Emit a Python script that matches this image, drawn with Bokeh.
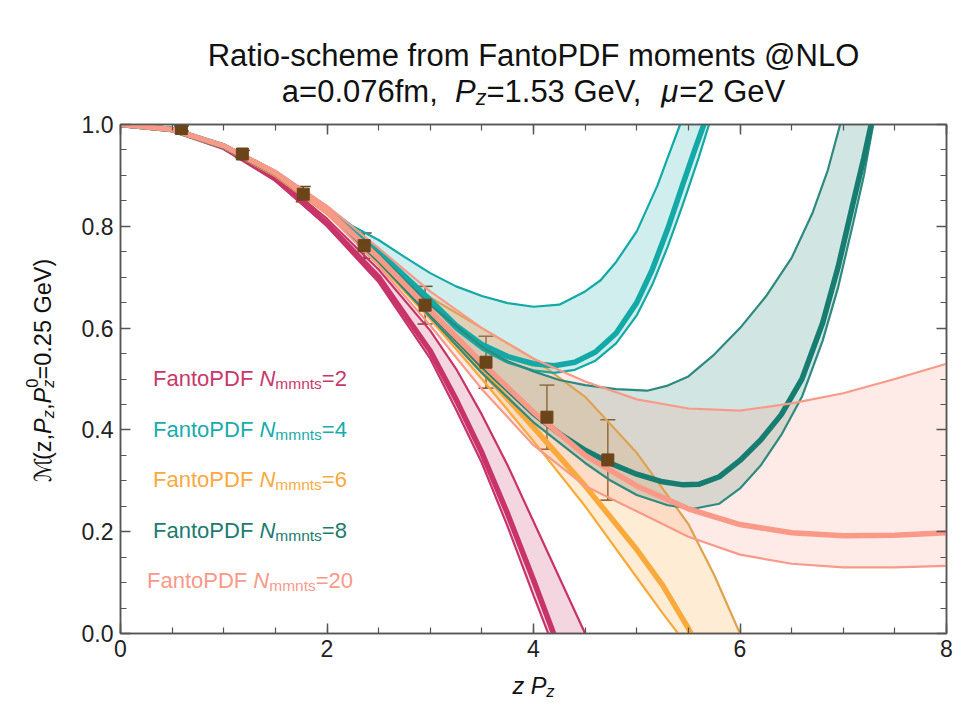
import math
from bokeh.plotting import figure
from bokeh.layouts import row, column
from bokeh.models import (Range1d, Label, LinearAxis, SingleIntervalTicker,
                          ColumnDataSource, Whisker, TeeHead, PrintfTickFormatter)
from bokeh.embed import file_html
from bokeh.resources import INLINE

# ---------------- data ----------------
# lattice data points
z_pts = [0.59, 1.18, 1.77, 2.36, 2.95, 3.54, 4.13, 4.72]
m_pts = [0.992, 0.942, 0.863, 0.762, 0.645, 0.533, 0.425, 0.341]
e_pts = [0.005, 0.007, 0.015, 0.025, 0.037, 0.051, 0.063, 0.079]

# N_mmnts = 2
z2_c = [0, 0.5, 1.0, 1.5, 2.0, 2.5, 3.0, 3.25, 3.5, 3.75, 4.0, 4.25]
m2_c = [1.0, 0.99, 0.955, 0.893, 0.805, 0.70, 0.555, 0.46, 0.355, 0.235, 0.105, -0.03]
z2_lo = [0, 0.5, 1.0, 1.5, 2.0, 2.5, 3.0, 3.25, 3.5, 3.75, 4.0, 4.2]
m2_lo = [1.0, 0.99, 0.954, 0.89, 0.80, 0.69, 0.54, 0.44, 0.335, 0.21, 0.075, -0.03]
z2_hi = [0, 0.5, 1.0, 1.5, 2.0, 2.5, 3.0, 3.25, 3.5, 3.75, 4.0, 4.25, 4.5, 4.6]
m2_hi = [1.0, 0.991, 0.957, 0.898, 0.815, 0.715, 0.595, 0.52, 0.43, 0.33, 0.22, 0.11, 0.0, -0.045]

# N_mmnts = 4
z4_hi = [0, 0.5, 1.0, 1.5, 2.0, 2.25, 2.5, 2.75, 3.0, 3.25, 3.5, 3.75, 4.0, 4.25, 4.5,
         4.65, 4.8, 5.0, 5.2, 5.3, 5.42, 5.5]
m4_hi = [1.0, 0.991, 0.96, 0.908, 0.838, 0.80, 0.773, 0.74, 0.708, 0.682, 0.663, 0.649,
         0.642, 0.646, 0.672, 0.694, 0.73, 0.79, 0.88, 0.935, 1.0, 1.05]
z4_c = [0, 0.5, 1.0, 1.5, 2.0, 2.5, 3.0, 3.25, 3.5, 3.75, 4.0, 4.2, 4.4, 4.6, 4.8, 5.0,
        5.15, 5.3, 5.45, 5.57, 5.65, 5.72]
m4_c = [1.0, 0.99, 0.958, 0.905, 0.835, 0.75, 0.655, 0.605, 0.568, 0.544, 0.53, 0.526,
        0.533, 0.553, 0.59, 0.65, 0.715, 0.795, 0.885, 0.955, 1.0, 1.04]
z4_lo = [0, 0.5, 1.0, 1.5, 2.0, 2.5, 3.0, 3.25, 3.5, 3.75, 4.0, 4.2, 4.4, 4.6, 4.8, 5.0,
         5.15, 5.3, 5.45, 5.6, 5.7, 5.77]
m4_lo = [1.0, 0.99, 0.957, 0.903, 0.832, 0.745, 0.648, 0.597, 0.558, 0.532, 0.517, 0.512,
         0.518, 0.536, 0.57, 0.625, 0.685, 0.76, 0.845, 0.935, 1.0, 1.04]

# N_mmnts = 6
z6_c = [0, 0.5, 1.0, 1.5, 2.0, 2.5, 3.0, 3.5, 4.0, 4.5, 5.0, 5.25, 5.5, 5.6]
m6_c = [1.0, 0.99, 0.957, 0.902, 0.828, 0.733, 0.627, 0.517, 0.405, 0.29, 0.165, 0.095, 0.01, -0.03]
z6_lo = [0, 0.5, 1.0, 1.5, 2.0, 2.5, 3.0, 3.5, 4.0, 4.5, 5.0, 5.25, 5.4, 5.5]
m6_lo = [1.0, 0.99, 0.956, 0.9, 0.824, 0.727, 0.618, 0.50, 0.378, 0.25, 0.11, 0.04, 0.0, -0.03]
z6_hi = [0, 0.5, 1.0, 1.5, 2.0, 2.5, 3.0, 3.5, 4.0, 4.5, 5.0, 5.5, 5.75, 6.0, 6.1]
m6_hi = [1.0, 0.991, 0.958, 0.906, 0.833, 0.745, 0.66, 0.60, 0.54, 0.465, 0.355, 0.215, 0.115, 0.0, -0.05]

# N_mmnts = 8
z8_hi = [0, 0.5, 1.0, 1.5, 2.0, 2.5, 3.0, 3.5, 3.75, 4.0, 4.25, 4.5, 4.8, 5.1, 5.3, 5.5,
         5.75, 6.0, 6.25, 6.5, 6.7, 6.85, 6.97, 7.05]
m8_hi = [1.0, 0.991, 0.958, 0.906, 0.833, 0.745, 0.645, 0.563, 0.535, 0.515, 0.498, 0.488,
         0.48, 0.477, 0.487, 0.505, 0.548, 0.60, 0.662, 0.738, 0.825, 0.91, 1.0, 1.06]
z8_c = [0, 0.5, 1.0, 1.5, 2.0, 2.5, 3.0, 3.5, 4.0, 4.25, 4.5, 4.75, 5.0, 5.25, 5.45, 5.6,
        5.8, 6.0, 6.2, 6.4, 6.6, 6.8, 6.95, 7.1, 7.2, 7.27, 7.33]
m8_c = [1.0, 0.99, 0.957, 0.904, 0.83, 0.736, 0.632, 0.527, 0.432, 0.393, 0.36, 0.334,
        0.313, 0.298, 0.292, 0.293, 0.308, 0.34, 0.38, 0.43, 0.50, 0.61, 0.72, 0.85,
        0.935, 1.0, 1.06]
z8_lo = [0, 0.5, 1.0, 1.5, 2.0, 2.5, 3.0, 3.5, 4.0, 4.5, 4.75, 5.0, 5.3, 5.55, 5.8, 6.0,
         6.2, 6.4, 6.6, 6.8, 6.95, 7.1, 7.2, 7.29, 7.35]
m8_lo = [1.0, 0.99, 0.956, 0.902, 0.826, 0.73, 0.622, 0.512, 0.415, 0.335, 0.30, 0.272,
         0.252, 0.245, 0.255, 0.285, 0.33, 0.39, 0.465, 0.575, 0.68, 0.81, 0.90, 1.0, 1.06]

# N_mmnts = 20
z20 = [0, 0.5, 1.0, 1.5, 2.0, 2.5, 3.0, 3.5, 4.0, 4.5, 5.0, 5.5, 6.0, 6.5, 7.0, 7.5, 8.0]
m20_c = [1.0, 0.99, 0.958, 0.905, 0.832, 0.738, 0.634, 0.532, 0.435, 0.35, 0.29, 0.245, 0.214, 0.198, 0.192, 0.193, 0.198]
m20_hi = [1.0, 0.991, 0.96, 0.909, 0.84, 0.757, 0.672, 0.60, 0.54, 0.495, 0.46, 0.442, 0.438, 0.452, 0.472, 0.50, 0.53]
m20_lo = [1.0, 0.99, 0.956, 0.901, 0.825, 0.722, 0.605, 0.48, 0.37, 0.29, 0.24, 0.19, 0.155, 0.137, 0.13, 0.13, 0.133]

legend_n = ["2", "4", "6", "8", "20"]
x_tick_labels = {0: "0", 2: "2", 4: "4", 6: "6", 8: "8"}

# ---------------- style ----------------
C2, C4, C6, C8, C20 = "#c8336a", "#12a9a6", "#f9aa3a", "#187d71", "#f99a88"
TXT = {"2": "#c8386b", "4": "#1aabab", "6": "#f8aa40", "8": "#1c7b70", "20": "#f8998a"}
FONT = "Liberation Sans"
GREY = "#555555"
INK = "#111111"
NB = "\u00a0"

W_EM = {' ': 278, NB: 278, '(': 333, ')': 333, ',': 278, '-': 333, '.': 278, '=': 584,
        '@': 1015, 'A': 667, 'D': 722, 'F': 611, 'G': 778, 'L': 556, 'M': 833, 'N': 722,
        'O': 778, 'P': 667, 'R': 722, 'V': 667, 'a': 556, 'c': 500, 'e': 556, 'f': 278,
        'h': 556, 'i': 222, 'm': 833, 'n': 556, 'o': 556, 'r': 333, 's': 500, 't': 278,
        'z': 500, 'μ': 576, 'ℳ': 950}
for d in "0123456789":
    W_EM[d] = 556


def tw(s, size):
    return sum(W_EM.get(ch, 556) for ch in s) * size / 1000.0


def no_align(f):
    try:
        f.frame_align = False
    except Exception:
        pass
    f.title.visible = False


# page geometry (pixels); text y values below are visual centre lines
TOT_W, TOT_H = 954, 702
YL_W = 70                  # left strip with the rotated y label
TI_H = 110                 # title strip
XL_Y0 = 668                # x-label strip starts here
FL, FT, FW, FH = 120, 124, 826, 509   # plot frame in page pixels
FCX = FL + FW / 2.0                    # frame centre


def aux_fig(w, h):
    f = figure(width=w, height=h, output_backend="svg", toolbar_location=None,
               x_range=Range1d(0, w), y_range=Range1d(0, h), min_border=0,
               min_border_left=0, min_border_right=0, min_border_top=0, min_border_bottom=0,
               x_axis_location=None, y_axis_location=None,
               background_fill_color="white", border_fill_color="white")
    f.outline_line_color = None
    f.grid.visible = False
    no_align(f)
    return f


class Strip:
    def __init__(self, x0, y0, w, h):
        self.x0, self.y0, self.w, self.h = x0, y0, w, h
        self.fig = aux_fig(w, h)

    def put(self, text, X, Y, size, color, italic=False, font=FONT, angle=0.0, align="left"):
        self.fig.add_layout(Label(x=X - self.x0, y=self.y0 + self.h - Y,
                                  text=text, text_font=font, text_font_size=f"{size}px",
                                  text_font_style="italic" if italic else "normal",
                                  text_color=color, text_align=align,
                                  text_baseline="alphabetic", angle=angle))


class MainPut:
    def __init__(self, fig):
        self.fig = fig

    def put(self, text, X, Y, size, color, italic=False, font=FONT, angle=0.0, align="left"):
        self.fig.add_layout(Label(x=X - FL, y=FT + FH - Y, x_units="screen", y_units="screen",
                                  text=text, text_font=font, text_font_size=f"{size}px",
                                  text_font_style="italic" if italic else "normal",
                                  text_color=color, text_align=align,
                                  text_baseline="alphabetic", angle=angle))


def hrich(target, runs, cx, base_y, color):
    total = sum(tw(t, s) for t, s, it, off in runs)
    X = cx - total / 2.0
    for t, s, it, off in runs:
        target.put(t, X, base_y + off, s, color, italic=it)
        X += tw(t, s)


# ---------------- main plot ----------------
MAIN_W, MAIN_H = TOT_W - YL_W, XL_Y0 - TI_H
p = figure(width=MAIN_W, height=MAIN_H, output_backend="svg", toolbar_location=None,
           x_range=Range1d(0, 8), y_range=Range1d(0, 1.0),
           min_border_left=FL - YL_W, min_border_right=TOT_W - FL - FW,
           min_border_top=FT - TI_H, min_border_bottom=XL_Y0 - FT - FH,
           background_fill_color="white", border_fill_color="white")
no_align(p)
p.grid.visible = False
p.outline_line_color = GREY
p.outline_line_width = 1.5

p.xaxis.ticker = SingleIntervalTicker(interval=2, num_minor_ticks=4)
p.yaxis.ticker = SingleIntervalTicker(interval=0.2, num_minor_ticks=4)
p.xaxis.major_label_overrides = x_tick_labels
p.yaxis.formatter = PrintfTickFormatter(format="%.1f")


def style_axis(ax, labels=True):
    ax.axis_line_color = GREY
    ax.axis_line_width = 1.5
    ax.major_tick_line_color = GREY
    ax.minor_tick_line_color = GREY
    ax.major_tick_line_width = 1.5
    ax.minor_tick_line_width = 1.2
    ax.major_tick_in = 10
    ax.major_tick_out = 0
    ax.minor_tick_in = 6
    ax.minor_tick_out = 0
    if labels:
        ax.major_label_text_font = FONT
        ax.major_label_text_color = "#222222"
    else:
        ax.major_label_text_font_size = "1px"
        ax.major_label_text_color = None
        ax.major_label_standoff = 0


for ax in p.xaxis:
    style_axis(ax)
    ax.major_label_text_font_size = "23px"
    ax.major_label_standoff = 6
for ax in p.yaxis:
    style_axis(ax)
    ax.major_label_text_font_size = "23px"
    ax.major_label_standoff = 7

top_ax = LinearAxis(ticker=SingleIntervalTicker(interval=2, num_minor_ticks=4))
right_ax = LinearAxis(ticker=SingleIntervalTicker(interval=0.2, num_minor_ticks=4))
style_axis(top_ax, labels=False)
style_axis(right_ax, labels=False)
p.add_layout(top_ax, "above")
p.add_layout(right_ax, "right")

# bands
bands = [
    (z2_hi, m2_hi, z2_lo, m2_lo, C2, 0.2),
    (z4_hi, m4_hi, z4_lo, m4_lo, C4, 0.2),
    (z6_hi, m6_hi, z6_lo, m6_lo, C6, 0.22),
    (z8_hi, m8_hi, z8_lo, m8_lo, C8, 0.2),
    (z20, m20_hi, z20, m20_lo, C20, 0.2),
]
for zh, mh, zl, ml, col, a in bands:
    xs = list(zh) + list(reversed(zl))
    ys = list(mh) + list(reversed(ml))
    p.patch(xs, ys, fill_color=col, fill_alpha=a, line_color=None)

# lines
THIN, THICK = 2.2, 5.5
p.line(z2_lo, m2_lo, line_color=C2, line_width=THIN)
p.line(z2_hi, m2_hi, line_color=C2, line_width=THIN)
p.line(z2_c, m2_c, line_color=C2, line_width=THICK)

p.line(z6_lo, m6_lo, line_color=C6, line_width=THIN)
p.line(z6_hi, m6_hi, line_color="#dfa350", line_width=THIN)
p.line(z6_c, m6_c, line_color=C6, line_width=THICK)

p.line(z4_lo, m4_lo, line_color=C4, line_width=THIN)
p.line(z4_hi, m4_hi, line_color=C4, line_width=THIN)
p.line(z4_c, m4_c, line_color=C4, line_width=THICK)

p.line(z8_lo, m8_lo, line_color="#2e8a7e", line_width=THIN)
p.line(z8_hi, m8_hi, line_color="#2e8a7e", line_width=THIN)
p.line(z8_c, m8_c, line_color=C8, line_width=THICK)

p.line(z20, m20_lo, line_color=C20, line_width=THIN)
p.line(z20, m20_hi, line_color=C20, line_width=THIN)
p.line(z20, m20_c, line_color=C20, line_width=THICK)

# data points
src = ColumnDataSource(dict(x=z_pts, y=m_pts,
                            lo=[m - e for m, e in zip(m_pts, e_pts)],
                            hi=[m + e for m, e in zip(m_pts, e_pts)]))
BROWN = "#6b4419"
wh = Whisker(source=src, base="x", lower="lo", upper="hi", line_color=BROWN,
             line_width=1.5,
             upper_head=TeeHead(size=15, line_color=BROWN, line_width=1.5),
             lower_head=TeeHead(size=15, line_color=BROWN, line_width=1.5))
p.add_layout(wh)
p.scatter("x", "y", source=src, marker="square", size=12, color=BROWN)

# legend labels inside the frame
mp = MainPut(p)
leg_y = [378, 428.5, 479, 529.5, 580]
for n, yc in zip(legend_n, leg_y):
    runs = [("FantoPDF" + NB, 22, False, 0), ("N", 22, True, 0),
            ("mmnts", 15.5, False, 5), ("=" + n, 22, False, 0)]
    hrich(mp, runs, 249.5, yc, TXT[n])

# ---------------- title strip ----------------
ti = Strip(YL_W, 0, TOT_W - YL_W, TI_H)
ti.put("Ratio-scheme from FantoPDF moments @NLO", FCX, 55, 31, INK, align="center")
hrich(ti, [("a=0.076fm," + NB + NB, 31, False, 0), ("P", 31, True, 0), ("z", 21.5, True, 6),
           ("=1.53" + NB + "GeV," + NB + NB, 31, False, 0), ("μ", 31, True, 0),
           ("=2" + NB + "GeV", 31, False, 0)],
      FCX, 91, INK)

# ---------------- x-label strip ----------------
xl = Strip(YL_W, XL_Y0, TOT_W - YL_W, TOT_H - XL_Y0)
hrich(xl, [("z" + NB, 23.5, True, 0), ("P", 23.5, True, 0), ("z", 16.5, True, 5)],
      FCX, 685, INK)

# ---------------- y-label strip ----------------
yl = Strip(0, 0, YL_W, TOT_H)
yl_runs = [("ℳ", 23.5, False, 0, True), ("(z,", 23.5, False, 0, True),
           ("P", 23.5, True, 0, True), ("z", 16.5, True, 5.5, True),
           (",", 23.5, False, 0, True), ("P", 23.5, True, 0, True),
           ("0", 16.5, False, -10.5, False), ("z", 16.5, True, 5.5, True),
           ("=0.25" + NB + "GeV)", 23.5, False, 0, True)]
total = sum(tw(t, s) for t, s, it, off, adv in yl_runs if adv)
Yc, Xb = 370.0, 42.0
Y = Yc + total / 2.0
for t, s, it, off, adv in yl_runs:
    yl.put(t, Xb + off, Y, s, INK, italic=it,
           font="DejaVu Sans" if t == "ℳ" else FONT, angle=math.pi / 2)
    if adv:
        Y -= tw(t, s)

layout = row(yl.fig, column(ti.fig, p, xl.fig))
open("out.html", "w").write(file_html(layout, INLINE))
